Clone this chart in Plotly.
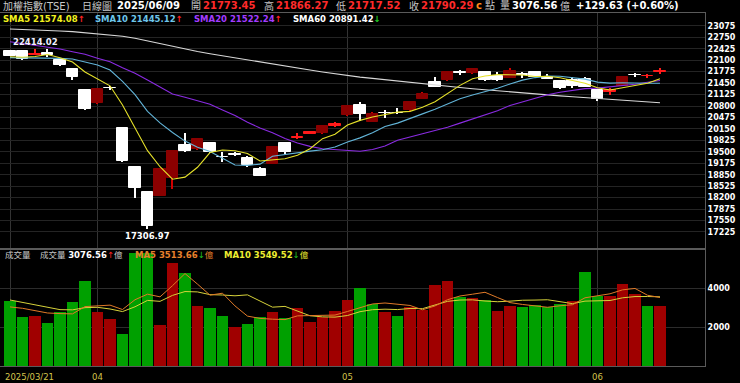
import plotly.graph_objects as go

# ---------------- data ----------------
dates = ["2025/03/21", "2025/03/24", "2025/03/25", "2025/03/26", "2025/03/27", "2025/03/28", "2025/03/31",
         "2025/04/01", "2025/04/02", "2025/04/07", "2025/04/08", "2025/04/09", "2025/04/10", "2025/04/11",
         "2025/04/14", "2025/04/15", "2025/04/16", "2025/04/17", "2025/04/18",
         "2025/04/21", "2025/04/22", "2025/04/23", "2025/04/24", "2025/04/25",
         "2025/04/28", "2025/04/29", "2025/04/30",
         "2025/05/02", "2025/05/05", "2025/05/06", "2025/05/07", "2025/05/08", "2025/05/09",
         "2025/05/12", "2025/05/13", "2025/05/14", "2025/05/15", "2025/05/16",
         "2025/05/19", "2025/05/20", "2025/05/21", "2025/05/22", "2025/05/23",
         "2025/05/26", "2025/05/27", "2025/05/28", "2025/05/29",
         "2025/06/02", "2025/06/03", "2025/06/04", "2025/06/05", "2025/06/06", "2025/06/09"]

opens = [22361, 22355, 22255, 22314, 22106, 21841, 21264, 20886, 21310, 20167,
         19079, 18350, 18256, 18748, 19694, 19571, 19741, 19365, 19450, 19334,
         19012, 19164, 19760, 19880, 20007, 20025, 20223, 20545, 20829, 20356,
         20615, 20615, 20687, 21000, 21472, 21538, 21760, 21728, 21775, 21661,
         21605, 21710, 21756, 21633, 21510, 21540, 21560, 21255, 21205, 21378,
         21690, 21640, 21773.45]
highs = [22380, 22370, 22414.02, 22409, 22115, 21850, 21280, 21302, 21377, 20180,
         19100, 18388, 19030, 19552, 20025, 19902, 19760, 19485, 19505, 19372,
         19079, 19660, 19775, 20034, 20100, 20260, 20356, 20820, 20904, 20621,
         20687, 20753, 20920, 21188, 21633, 21790, 21822, 21888, 21790, 21756,
         21888, 21757, 21794, 21700, 21540, 21633, 21633, 21270, 21321, 21650,
         21747, 21718, 21866.27]
lows = [22215, 22110, 22240, 22201, 21936, 21529, 20690, 20870, 21255, 19221,
        18199, 17306.97, 18240, 18436, 19500, 19560, 19470, 19221, 19392, 19079,
        18800, 19150, 19448, 19864, 19995, 20010, 20205, 20530, 20375, 20340,
        20450, 20560, 20670, 20990, 21340, 21520, 21680, 21700, 21510, 21520,
        21590, 21605, 21620, 21560, 21283, 21320, 21330, 20942, 21113, 21370,
        21623, 21586, 21717.52]
closes = [22229, 22125, 22290, 22248, 21964, 21614, 20706, 21283, 21298, 19232,
          18460, 17392, 19000, 19529, 19523, 19864, 19485, 19355, 19420, 19126,
          18814, 19646, 19505, 19910, 20072, 20233, 20280, 20800, 20575, 20560,
          20605, 20595, 20904, 21150, 21349, 21775, 21750, 21850, 21530, 21545,
          21794, 21690, 21633, 21567, 21320, 21360, 21345, 21000, 21250, 21633,
          21675, 21660.66, 21790.29]

volumes = [3335, 2514, 2580, 2222, 2787, 3266, 4378, 2770, 2411, 1658,
           5780, 5800, 2086, 5284, 4754, 3078, 2975, 2580, 2018, 2138,
           2497, 2770, 2479, 2975, 2257, 2514, 2839, 3403, 3984, 3163,
           2770, 2565, 3044, 2873, 4155, 4360, 3522, 3506, 3369, 2804,
           3061, 3044, 3129, 3027, 3181, 3335, 4822, 3591, 3591, 4191,
           3694, 3078, 3076.56]

sma5 = [22200, 22185, 22205, 22262, 22171, 22048, 21764, 21563, 21373, 20827,
        20196, 19533, 19076, 18723, 18781, 19062, 19480, 19551, 19529, 19450,
        19240, 19272, 19302, 19400, 19589, 19873, 20000, 20259, 20392, 20490,
        20564, 20627, 20648, 20763, 20921, 21155, 21386, 21575, 21651, 21690,
        21694, 21682, 21638, 21646, 21601, 21514, 21445, 21318, 21255, 21318,
        21381, 21444, 21574.08]
sma10 = [22172, 22172, 22170, 22168, 22153, 22134, 22059, 21964, 21822, 21499,
         21122, 20649, 20320, 20048, 19804, 19629, 19507, 19314, 19126, 19115,
         19151, 19376, 19427, 19465, 19520, 19557, 19636, 19781, 19896, 20040,
         20219, 20314, 20453, 20577, 20705, 20859, 21006, 21111, 21207, 21305,
         21424, 21534, 21607, 21648, 21645, 21604, 21563, 21478, 21450, 21459,
         21447, 21444, 21445.12]
sma20 = [22626, 22579, 22513, 22465, 22418, 22342, 22267, 22153, 22059, 21888,
         21728, 21538, 21349, 21140, 21050, 20960, 20850, 20690, 20530, 20340,
         20175, 20040, 19878, 19750, 19655, 19587, 19562, 19540, 19517, 19565,
         19665, 19826, 19921, 20008, 20101, 20197, 20314, 20438, 20548, 20665,
         20815, 20914, 21024, 21122, 21191, 21243, 21293, 21308, 21339, 21380,
         21416, 21476, 21522.24]
sma60 = [22986, 22976, 22962, 22948, 22930, 22910, 22882, 22853, 22815, 22778,
         22721, 22645, 22560, 22480, 22410, 22345, 22285, 22225, 22160, 22100,
         22040, 21980, 21925, 21870, 21820, 21765, 21710, 21660, 21620, 21585,
         21545, 21505, 21470, 21438, 21400, 21362, 21325, 21290, 21258, 21225,
         21195, 21165, 21140, 21113, 21087, 21063, 21038, 21012, 20985, 20962,
         20940, 20918, 20891.42]

vol_ma5 = [3030, 2960, 2840, 2720, 2688, 2674, 3047, 3085, 3122, 2897,
           3399, 3684, 3547, 4122, 4741, 4200, 3635, 3734, 3081, 2558,
           2442, 2401, 2380, 2572, 2596, 2599, 2613, 2798, 2999, 3181,
           3232, 3177, 3105, 2883, 3081, 3399, 3591, 3683, 3782, 3512,
           3252, 3157, 3081, 3013, 3088, 3143, 3499, 3591, 3704, 3906,
           3978, 3629, 3513.66]
vol_ma10 = [3386, 3266, 3129, 2993, 2890, 2880, 2993, 3010, 2924, 2792,
            3037, 3365, 3316, 3622, 3819, 3800, 3660, 3641, 3601, 3649,
            3321, 3018, 3057, 2826, 2577, 2520, 2507, 2589, 2786, 2888,
            2915, 2895, 2951, 2941, 3131, 3316, 3384, 3394, 3333, 3297,
            3326, 3374, 3382, 3398, 3300, 3198, 3328, 3336, 3359, 3497,
            3561, 3564, 3549.52]

price_ticks = [17225, 17550, 17875, 18200, 18525, 18850, 19175, 19500, 19825, 20150,
               20475, 20800, 21125, 21450, 21775, 22100, 22425, 22750, 23075]
vol_ticks = [2000, 4000]
price_range = [16770, 23440]
vol_range = [0, 5950]

# ---------------- derived ----------------
n = len(dates)
xs = list(range(n))
month_idx = [0] + [i for i in range(1, n) if dates[i][5:7] != dates[i - 1][5:7]]
month_txt = [dates[0]] + [dates[i][5:7] for i in month_idx[1:]]

UP_BODY, UP_SMALL, UP_WICK, DOWN = "#8b0000", "#ff1a1a", "#d00000", "#ffffff"
body_col, wick_col = [], []
for o, c in zip(opens, closes):
    if c >= o:
        body_col.append(UP_SMALL if c - o < 80 else UP_BODY)
        wick_col.append(UP_WICK if c - o >= 80 else UP_SMALL)
    else:
        body_col.append(DOWN)
        wick_col.append(DOWN)

vol_col = []
for i in range(n):
    up = i > 0 and closes[i] > closes[i - 1]
    vol_col.append("#a00000" if up else "#00a000")

FONT = "DejaVu Sans, Noto Sans CJK TC, sans-serif"

fig = go.Figure()

# candles: wicks then bodies
fig.add_trace(go.Bar(x=xs, y=[h - l for h, l in zip(highs, lows)], base=lows, width=0.13,
                     marker=dict(color=wick_col, line=dict(width=0)), xaxis="x", yaxis="y"))
fig.add_trace(go.Bar(x=xs, y=[abs(c - o) for o, c in zip(opens, closes)],
                     base=[min(o, c) for o, c in zip(opens, closes)], width=0.9,
                     marker=dict(color=body_col, line=dict(color=body_col, width=1)),
                     xaxis="x", yaxis="y"))

# price moving averages
for arr, col in [(sma60, "#d8d8d8"), (sma20, "#8a2be2"), (sma10, "#62b4d8"), (sma5, "#e6e22a")]:
    fig.add_trace(go.Scatter(x=xs, y=arr, mode="lines", line=dict(color=col, width=1.1),
                             xaxis="x", yaxis="y"))

# volume
fig.add_trace(go.Bar(x=xs, y=volumes, width=0.93, marker=dict(color=vol_col, line=dict(width=0)),
                     xaxis="x2", yaxis="y2"))
fig.add_trace(go.Scatter(x=xs, y=vol_ma10, mode="lines", line=dict(color="#d6d23a", width=1),
                         xaxis="x2", yaxis="y2"))
fig.add_trace(go.Scatter(x=xs, y=vol_ma5, mode="lines", line=dict(color="#e07a28", width=1),
                         xaxis="x2", yaxis="y2"))

W, H = 740, 383
ML, MR, MT, MB = 0, 35, 13, 17
PW, PH = W - ML - MR, H - MT - MB


def ann(text, xpx, ypx, color, size, bold=False, anchor="left"):
    fig.add_annotation(xref="paper", yref="paper", x=(xpx - ML) / PW, y=(H - MB - ypx) / PH,
                       text=text, showarrow=False, xanchor=anchor, yanchor="middle",
                       font=dict(color=color, size=size, family=FONT,
                                 weight="bold" if bold else "normal"))


GRAY = "#c8c8c8"
RED = "#ff2a2a"
# header row
ann("加權指數(TSE)", 1, 6, GRAY, 10)
ann("日線圖", 80, 6, GRAY, 10)
ann("2025/06/09", 115, 6, "#ffffff", 10, True)
ann("開", 189, 6, GRAY, 10)
ann(f"{opens[-1]:.2f}", 201, 6, RED, 10, True)
ann("高", 262, 6, GRAY, 10)
ann(f"{highs[-1]:.2f}", 274, 6, RED, 10, True)
ann("低", 334, 6, GRAY, 10)
ann(f"{lows[-1]:.2f}", 346, 6, RED, 10, True)
ann("收", 407, 6, GRAY, 10)
ann(f"{closes[-1]:.2f}", 419, 6, RED, 10, True)
ann("c", 474, 6, "#ff8c1a", 10, True)
ann("點", 483, 6, GRAY, 10)
ann("量", 498, 6, GRAY, 10)
ann(f"{volumes[-1]:.2f}", 510, 6, "#ffffff", 10, True)
chg = closes[-1] - closes[-2]
ann("億", 558, 6, GRAY, 10)
ann(f"+{chg:.2f} (+{chg / closes[-2] * 100:.2f}%)", 574, 6, "#ffffff", 10, True)

# MA legend row
UPA = "<span style='color:#ff2020'>↑</span>"
DNA = "<span style='color:#22cc22'>↓</span>"
ann(f"SMA5 {sma5[-1]:.2f}" + UPA, 1, 19, "#f2f21e", 8.5, True)
ann(f"SMA10 {sma10[-1]:.2f}" + UPA, 93, 19, "#6ec6ea", 8.5, True)
ann(f"SMA20 {sma20[-1]:.2f}" + UPA, 192, 19, "#a33cff", 8.5, True)
ann(f"SMA60 {sma60[-1]:.2f}" + DNA, 291, 19, "#ffffff", 8.5, True)

# volume legend row
ann("成交量", 3, 255, GRAY, 8.5)
ann("成交量 <b><span style='color:#ffffff'>%.2f</span></b>" % volumes[-1] + UPA + "億", 38, 255, GRAY, 8.5)
ann("<b>MA5 %.2f</b>" % vol_ma5[-1] + DNA + "億", 133, 255, "#e8802c", 8.5)
ann("<b>MA10 %.2f</b>" % vol_ma10[-1] + DNA + "億", 222, 255, "#eeee30", 8.5)

# high / low labels
hi_i = max(range(n), key=lambda i: highs[i])
lo_i = min(range(n), key=lambda i: lows[i])
fig.add_annotation(x=hi_i, y=highs[hi_i], xref="x", yref="y", text=f"{highs[hi_i]:.2f}",
                   showarrow=False, yanchor="bottom", xanchor="center",
                   font=dict(color="#f0f0ff", size=8.5, family=FONT, weight="bold"))
fig.add_annotation(x=lo_i, y=lows[lo_i], xref="x", yref="y", text=f"{lows[lo_i]:.2f}",
                   showarrow=False, yanchor="top", xanchor="center",
                   font=dict(color="#ffffff", size=8.5, family=FONT, weight="bold"))

# x labels (months)
for k, (i, t) in enumerate(zip(month_idx, month_txt)):
    fig.add_annotation(x=i, y=0, xref="x2", yref="paper", text=t, showarrow=False,
                       yanchor="top", xanchor="left" if k == 0 else "center",
                       xshift=-7 if k == 0 else 0, yshift=-4,
                       font=dict(color="#d4c44c", size=8.5, family=FONT))

xr = [-0.8, 55.6]
axis_common = dict(showline=True, mirror=True, linecolor="#5a5a5a", linewidth=1, zeroline=False)
fig.update_layout(
    width=W, height=H, margin=dict(l=ML, r=MR, t=MT, b=MB, autoexpand=False),
    paper_bgcolor="#000000", plot_bgcolor="#000000",
    barmode="overlay", showlegend=False, hovermode=False, bargap=0,
    font=dict(family=FONT, color="#ffffff"),
    xaxis=dict(domain=[0, 1], range=xr, anchor="y", tickvals=month_idx, showticklabels=False,
               ticks="", showgrid=True, gridcolor="#333333", gridwidth=1, **axis_common),
    yaxis=dict(domain=[0.3343, 1], range=price_range, side="right", anchor="x",
               tickvals=price_ticks, ticktext=[str(v) for v in price_ticks],
               ticks="", showgrid=True, gridcolor="#242424", automargin=False,
               tickfont=dict(color="#ffffff", size=8, family=FONT, weight="bold"), **axis_common),
    xaxis2=dict(domain=[0, 1], range=xr, anchor="y2", tickvals=month_idx, showticklabels=False,
                ticks="", showgrid=True, gridcolor="#333333", **axis_common),
    yaxis2=dict(domain=[0, 0.3286], range=vol_range, side="right", anchor="x2", automargin=False,
                tickvals=vol_ticks, ticktext=[str(v) for v in vol_ticks],
                ticks="", showgrid=True, gridcolor="#2c2c2c",
                tickfont=dict(color="#ffffff", size=8, family=FONT, weight="bold"), **axis_common),
)

fig.write_html("out.html", config={"displayModeBar": False},
               post_script="document.body.style.margin='0';document.body.style.padding='0';")
